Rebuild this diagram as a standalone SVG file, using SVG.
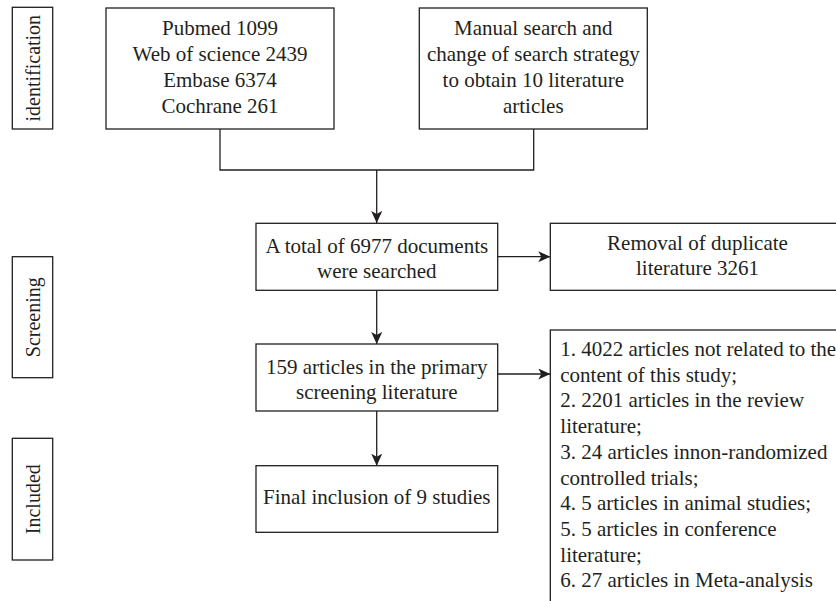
<svg xmlns="http://www.w3.org/2000/svg" width="836" height="601" viewBox="0 0 836 601">
<style>
.box{fill:#fff;stroke:#231f20;stroke-width:1.3}
.t{font-family:"Liberation Serif",serif;font-size:21px;fill:#231f20}
.c{text-anchor:middle}
.ln{fill:none;stroke:#231f20;stroke-width:1.3}
</style>
<defs>
<marker id="ah" markerUnits="userSpaceOnUse" markerWidth="13" markerHeight="11" refX="12" refY="5.5" orient="auto">
<path d="M0,0 L12,5.5 L0,11 L3,5.5 z" fill="#231f20"/>
</marker>
</defs>
<rect width="836" height="601" fill="#fff"/>
<g id="lbl-identification">
<rect class="box" x="12.3" y="7.3" width="40.4" height="121.7"/>
<text class="t c" style="font-size:20px" transform="translate(39.5,68.2) rotate(-90)">identification</text>
</g>
<g id="lbl-screening">
<rect class="box" x="12.3" y="256.7" width="40.4" height="121"/>
<text class="t c" style="font-size:20px" transform="translate(39.5,317.2) rotate(-90)">Screening</text>
</g>
<g id="lbl-included">
<rect class="box" x="12.3" y="438.3" width="40.4" height="121.7"/>
<text class="t c" style="font-size:20px" transform="translate(39.5,499.2) rotate(-90)">Included</text>
</g>
<g id="connectors">
<polyline class="ln" points="220,129 220,170 533.7,170 533.7,129"/>
<line class="ln" x1="376.7" y1="170" x2="376.7" y2="223" marker-end="url(#ah)"/>
<line class="ln" x1="376.7" y1="290.3" x2="376.7" y2="344" marker-end="url(#ah)"/>
<line class="ln" x1="376.7" y1="411" x2="376.7" y2="465.7" marker-end="url(#ah)"/>
<line class="ln" x1="497.7" y1="256.7" x2="550.3" y2="256.7" marker-end="url(#ah)"/>
<line class="ln" x1="497.7" y1="374" x2="550.3" y2="374" marker-end="url(#ah)"/>
</g>
<g id="n-databases">
<rect class="box" x="106" y="8" width="228" height="121"/>
<text class="t c" x="220" y="35">Pubmed 1099</text>
<text class="t c" x="220" y="61">Web of science 2439</text>
<text class="t c" x="220" y="87">Embase 6374</text>
<text class="t c" x="220" y="113">Cochrane 261</text>
</g>
<g id="n-manual">
<rect class="box" x="419.3" y="8" width="228" height="121"/>
<text class="t c" x="533.3" y="35">Manual search and</text>
<text class="t c" x="533.3" y="61">change of search strategy</text>
<text class="t c" x="533.3" y="87">to obtain 10 literature</text>
<text class="t c" x="533.3" y="113">articles</text>
</g>
<g id="n-total">
<rect class="box" x="256" y="223.3" width="241.7" height="67"/>
<text class="t c" x="376.8" y="252.5">A total of 6977 documents</text>
<text class="t c" x="376.8" y="277.5">were searched</text>
</g>
<g id="n-duplicate">
<rect class="box" x="550.3" y="223.3" width="300" height="67"/>
<text class="t c" x="697.5" y="250">Removal of duplicate</text>
<text class="t c" x="697.5" y="275">literature 3261</text>
</g>
<g id="n-primary">
<rect class="box" x="256" y="344" width="241.7" height="67"/>
<text class="t c" x="376.8" y="374.3">159 articles in the primary</text>
<text class="t c" x="376.8" y="399.3">screening literature</text>
</g>
<g id="n-excluded">
<rect class="box" x="550.3" y="330" width="300" height="290"/>
<text class="t" x="560.3" y="356">1. 4022 articles not related to the</text>
<text class="t" x="560.3" y="381.7">content of this study;</text>
<text class="t" x="560.3" y="407.4">2. 2201 articles in the review</text>
<text class="t" x="560.3" y="433.1">literature;</text>
<text class="t" x="560.3" y="458.8">3. 24 articles innon-randomized</text>
<text class="t" x="560.3" y="484.5">controlled trials;</text>
<text class="t" x="560.3" y="510.2">4. 5 articles in animal studies;</text>
<text class="t" x="560.3" y="535.9">5. 5 articles in conference</text>
<text class="t" x="560.3" y="561.6">literature;</text>
<text class="t" x="560.3" y="587.3">6. 27 articles in Meta-analysis</text>
</g>
<g id="n-final">
<rect class="box" x="256" y="465.7" width="241.7" height="66.6"/>
<text class="t c" x="376.8" y="504">Final inclusion of 9 studies</text>
</g>
</svg>
